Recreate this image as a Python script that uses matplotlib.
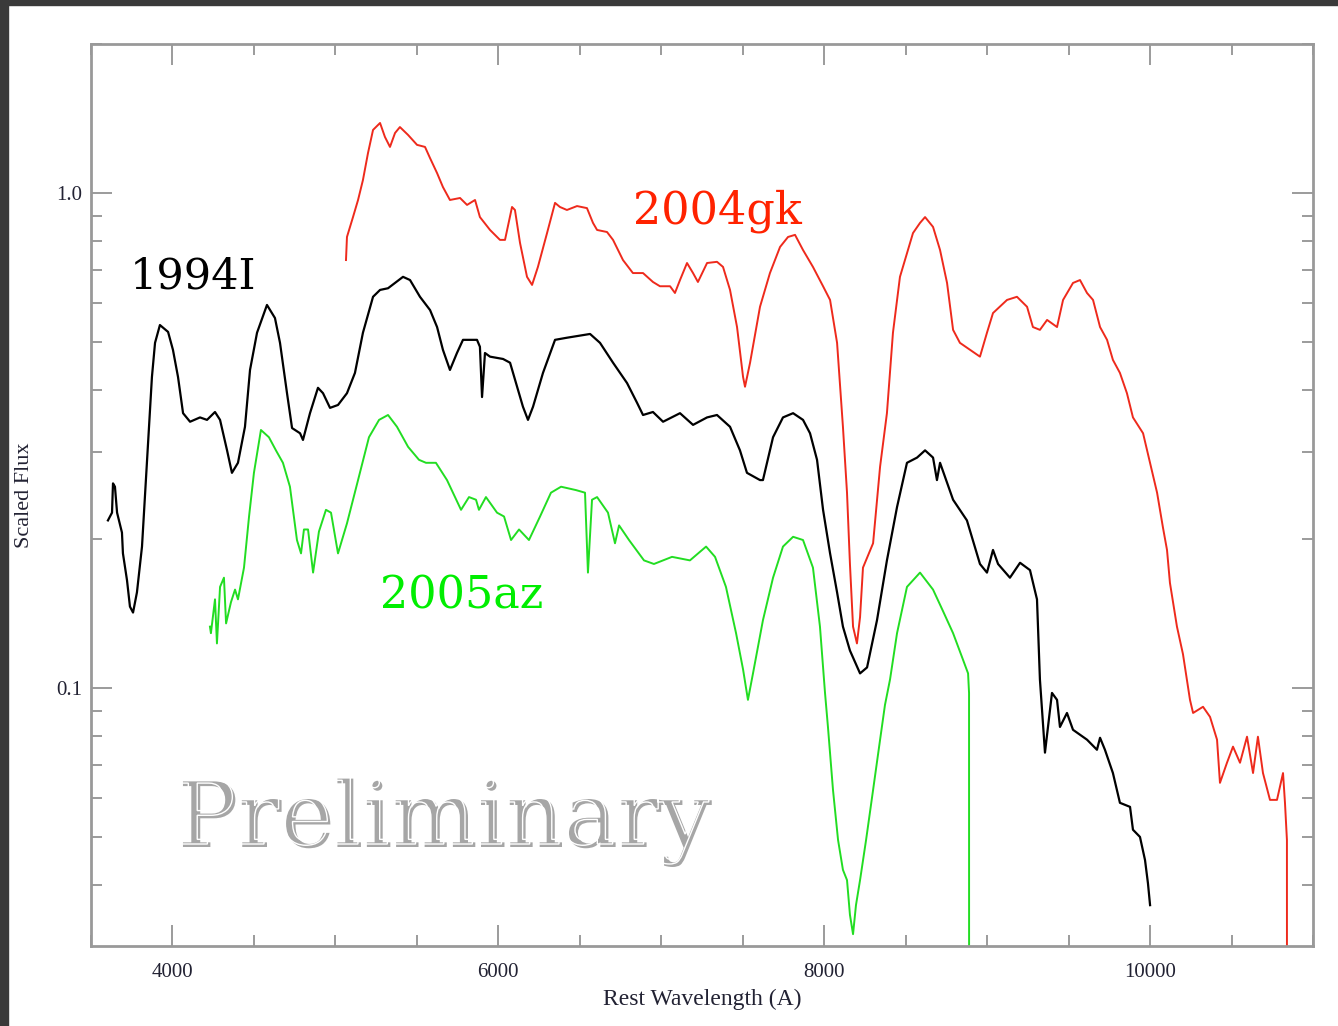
import matplotlib
matplotlib.use('Agg')
import matplotlib.pyplot as plt
import matplotlib.ticker as mticker
from matplotlib.patches import Rectangle, PathPatch
from matplotlib.textpath import TextPath
from matplotlib.font_manager import FontProperties
from matplotlib.transforms import Affine2D

# SN 1994I (black)
w_94 = [3604, 3629, 3635, 3647, 3660, 3690, 3696, 3721, 3739, 3758, 3782, 3813, 3844, 3874, 3893,
        3923, 3973, 4003, 4034, 4065, 4108, 4169, 4212, 4261, 4292, 4335, 4365, 4402, 4445, 4476,
        4519, 4580, 4629, 4660, 4703, 4734, 4783, 4801, 4844, 4893, 4924, 4967, 5016, 5071, 5120,
        5169, 5231, 5274, 5323, 5415, 5458, 5519, 5581, 5624, 5660, 5703, 5746, 5783, 5869, 5887,
        5900, 5918, 5949, 6029, 6072, 6115, 6151, 6182, 6213, 6274, 6348, 6421, 6563, 6624, 6704,
        6790, 6851, 6888, 6949, 7011, 7115, 7195, 7281, 7342, 7422, 7483, 7526, 7606, 7624, 7649,
        7686, 7747, 7809, 7870, 7913, 7956, 7993, 8036, 8079, 8115, 8158, 8220, 8263, 8324, 8385,
        8447, 8508, 8570, 8619, 8668, 8692, 8711, 8791, 8876, 8956, 8999, 9036, 9067, 9140, 9202,
        9263, 9306, 9324, 9355, 9398, 9429, 9447, 9490, 9527, 9613, 9674, 9693, 9723, 9772, 9815,
        9877, 9895, 9938, 9969, 9987, 10000]
f_94 = [0.218, 0.226, 0.259, 0.255, 0.226, 0.206, 0.187, 0.165, 0.146, 0.142, 0.156, 0.193, 0.289, 0.425, 0.498,
        0.541, 0.524, 0.482, 0.425, 0.359, 0.345, 0.352, 0.348, 0.361, 0.348, 0.302, 0.272, 0.285, 0.337, 0.439,
        0.522, 0.594, 0.559, 0.498, 0.394, 0.335, 0.327, 0.317, 0.359, 0.404, 0.394, 0.368, 0.373, 0.394, 0.433,
        0.522, 0.617, 0.637, 0.642, 0.677, 0.667, 0.617, 0.580, 0.536, 0.482, 0.439, 0.475, 0.505, 0.505, 0.489,
        0.387, 0.475, 0.467, 0.462, 0.454, 0.406, 0.370, 0.348, 0.370, 0.433, 0.505, 0.510, 0.519, 0.498, 0.454,
        0.413, 0.377, 0.356, 0.361, 0.345, 0.359, 0.340, 0.352, 0.356, 0.337, 0.302, 0.272, 0.263, 0.263, 0.285,
        0.321, 0.352, 0.359, 0.348, 0.327, 0.289, 0.229, 0.187, 0.156, 0.133, 0.119, 0.107, 0.110, 0.137, 0.181,
        0.232, 0.285, 0.292, 0.302, 0.292, 0.263, 0.285, 0.240, 0.218, 0.178, 0.171, 0.190, 0.178, 0.167, 0.179,
        0.173, 0.151, 0.104, 0.0740, 0.0977, 0.0946, 0.0834, 0.0890, 0.0823, 0.0786, 0.0750, 0.0793, 0.0750, 0.0673, 0.0586,
        0.0575, 0.0517, 0.0500, 0.0449, 0.0403, 0.0364]

# SN 2004gk (red)
w_04 = [5065, 5071, 5108, 5139, 5169, 5200, 5231, 5274, 5304, 5335, 5366, 5396, 5446, 5501, 5550,
        5581, 5624, 5660, 5703, 5765, 5808, 5857, 5887, 5949, 6010, 6041, 6084, 6102, 6133, 6176,
        6207, 6243, 6299, 6348, 6378, 6421, 6483, 6544, 6581, 6606, 6667, 6704, 6765, 6826, 6888,
        6949, 6992, 7054, 7084, 7115, 7158, 7195, 7225, 7281, 7342, 7379, 7422, 7465, 7502, 7514,
        7545, 7606, 7667, 7729, 7778, 7821, 7870, 7931, 7993, 8036, 8079, 8115, 8140, 8158, 8177,
        8201, 8220, 8238, 8300, 8343, 8385, 8422, 8465, 8508, 8545, 8588, 8619, 8668, 8711, 8754,
        8791, 8833, 8895, 8956, 8999, 9036, 9122, 9183, 9245, 9281, 9324, 9368, 9429, 9466, 9527,
        9570, 9613, 9650, 9693, 9736, 9772, 9815, 9858, 9895, 9957, 10000, 10043, 10079, 10104, 10122,
        10165, 10202, 10245, 10264, 10325, 10368, 10411, 10429, 10472, 10509, 10552, 10595, 10632, 10662, 10693,
        10736, 10779, 10816, 10828, 10840, 10841]
f_04 = [0.732, 0.815, 0.894, 0.968, 1.062, 1.204, 1.341, 1.385, 1.298, 1.239, 1.322, 1.359, 1.310, 1.251, 1.239,
        1.176, 1.097, 1.028, 0.968, 0.977, 0.946, 0.968, 0.894, 0.842, 0.804, 0.804, 0.937, 0.924, 0.793, 0.677,
        0.652, 0.709, 0.830, 0.955, 0.937, 0.924, 0.941, 0.932, 0.870, 0.842, 0.834, 0.804, 0.732, 0.689, 0.689,
        0.661, 0.648, 0.648, 0.628, 0.667, 0.722, 0.689, 0.661, 0.722, 0.726, 0.709, 0.637, 0.536, 0.425, 0.406,
        0.454, 0.589, 0.689, 0.778, 0.815, 0.823, 0.767, 0.709, 0.648, 0.608, 0.498, 0.337, 0.248, 0.178, 0.133,
        0.123, 0.139, 0.175, 0.196, 0.280, 0.359, 0.522, 0.677, 0.756, 0.830, 0.870, 0.894, 0.854, 0.767, 0.658,
        0.529, 0.498, 0.482, 0.467, 0.522, 0.572, 0.608, 0.617, 0.589, 0.536, 0.529, 0.554, 0.536, 0.608, 0.658,
        0.667, 0.628, 0.608, 0.536, 0.505, 0.460, 0.433, 0.394, 0.352, 0.327, 0.285, 0.248, 0.211, 0.190, 0.163,
        0.133, 0.117, 0.0946, 0.0890, 0.0916, 0.0874, 0.0786, 0.0643, 0.0706, 0.0761, 0.0706, 0.0797, 0.0673, 0.0797, 0.0673,
        0.0594, 0.0594, 0.0673, 0.0586, 0.0493, 0.001]

# SN 2005az (green)
w_05 = [4230, 4236, 4261, 4273, 4292, 4316, 4329, 4359, 4384, 4402, 4439, 4470, 4500, 4543, 4592,
        4635, 4678, 4721, 4764, 4789, 4807, 4832, 4863, 4899, 4942, 4973, 5016, 5071, 5139, 5206,
        5268, 5323, 5378, 5446, 5513, 5556, 5617, 5685, 5771, 5820, 5863, 5881, 5924, 5992, 6035,
        6078, 6127, 6188, 6256, 6323, 6385, 6477, 6532, 6550, 6575, 6606, 6673, 6716, 6741, 6802,
        6894, 6955, 7066, 7176, 7275, 7330, 7397, 7459, 7502, 7532, 7563, 7624, 7686, 7747, 7809,
        7870, 7931, 7974, 8005, 8023, 8054, 8085, 8115, 8140, 8158, 8177, 8195, 8220, 8257, 8300,
        8343, 8373, 8404, 8447, 8508, 8588, 8668, 8729, 8791, 8852, 8883, 8889, 8890]
f_05 = [0.133, 0.129, 0.151, 0.123, 0.160, 0.167, 0.135, 0.149, 0.158, 0.151, 0.175, 0.222, 0.272, 0.332, 0.321,
        0.302, 0.285, 0.255, 0.199, 0.187, 0.209, 0.209, 0.171, 0.207, 0.229, 0.226, 0.187, 0.215, 0.263, 0.321,
        0.348, 0.356, 0.337, 0.307, 0.289, 0.285, 0.285, 0.263, 0.229, 0.243, 0.240, 0.229, 0.243, 0.226, 0.222,
        0.199, 0.209, 0.199, 0.222, 0.248, 0.255, 0.251, 0.248, 0.171, 0.240, 0.243, 0.226, 0.196, 0.213, 0.199,
        0.181, 0.178, 0.184, 0.181, 0.193, 0.184, 0.160, 0.129, 0.109, 0.0946, 0.107, 0.137, 0.167, 0.193, 0.202,
        0.199, 0.175, 0.133, 0.0977, 0.0834, 0.0622, 0.0493, 0.0429, 0.0409, 0.0348, 0.0318, 0.0364, 0.0409, 0.0493, 0.0622,
        0.0786, 0.0924, 0.104, 0.129, 0.160, 0.171, 0.158, 0.143, 0.129, 0.114, 0.107, 0.0977, 0.001]

labels = ['1994I', '2004gk', '2005az']

serif = 'Liberation Serif'
axcol = '#999999'

fig = plt.figure(figsize=(13.38, 10.26), dpi=100)
fig.patches.append(Rectangle((0, 0), 8 / 1338, 1, transform=fig.transFigure, color='#3a3a3a', zorder=0))
fig.patches.append(Rectangle((0, 1 - 5 / 1026), 1, 5 / 1026, transform=fig.transFigure, color='#3a3a3a', zorder=0))

ax = fig.add_axes([91 / 1338, 80 / 1026, 1222 / 1338, 902 / 1026])
ax.plot(w_94, f_94, color='black', lw=1.6)
ax.plot(w_04, f_04, color='#ee2a1c', lw=1.4)
ax.plot(w_05, f_05, color='#22dd22', lw=1.4)

ax.set_yscale('log')
ax.set_xlim(3500, 11000)
ax.set_ylim(0.0301, 2.0)

ax.xaxis.set_major_locator(mticker.MultipleLocator(2000))
ax.xaxis.set_minor_locator(mticker.MultipleLocator(500))
ax.yaxis.set_major_locator(mticker.FixedLocator([0.1, 1.0]))
ax.yaxis.set_major_formatter(mticker.FixedFormatter(['0.1', '1.0']))
ax.yaxis.set_minor_locator(mticker.LogLocator(base=10, subs=range(2, 10)))
ax.yaxis.set_minor_formatter(mticker.NullFormatter())

ax.tick_params(which='both', direction='in', top=True, right=True, color='#808080', width=1.1,
               labelsize=15, labelcolor='#222233')
ax.tick_params(which='major', length=15)
ax.tick_params(which='minor', length=8)
ax.tick_params(axis='x', which='major', pad=12)
ax.tick_params(axis='y', which='major', pad=6)
for lab in ax.get_xticklabels() + ax.get_yticklabels():
    lab.set_family(serif)
for sp in ax.spines.values():
    sp.set_color(axcol)
    sp.set_linewidth(2)

ax.set_xlabel('Rest Wavelength (A)', family=serif, fontsize=17, color='#222233', labelpad=5)
ax.set_ylabel('Scaled Flux', family=serif, fontsize=16, color='#222233', labelpad=16)

ax.text(3739, 0.64, labels[0], family='DejaVu Serif', fontsize=31, color='black', va='baseline')
ax.text(6826, 0.866, labels[1], family='DejaVu Serif', fontsize=32, color='#ff2200', va='baseline')
ax.text(5274, 0.145, labels[2], family='DejaVu Serif', fontsize=32, color='#00ee00', va='baseline')

# embossed "Preliminary" watermark
fp = FontProperties(family='DejaVu Serif')
tp = TextPath((0, 0), 'Preliminary', size=90, prop=fp)
base = Affine2D().scale(1 / 100)
x0, y0 = 178 / 100, (1026 - 847) / 100
fig.add_artist(PathPatch(tp, transform=base + Affine2D().translate(x0, y0) + fig.dpi_scale_trans,
                         facecolor='#a6a6a6', edgecolor='none', zorder=5))
fig.add_artist(PathPatch(tp, transform=base + Affine2D().translate(x0 - 0.03, y0 + 0.03) + fig.dpi_scale_trans,
                         facecolor='none', edgecolor='white', lw=1.0, zorder=6))

fig.savefig('out.png', dpi=100)
